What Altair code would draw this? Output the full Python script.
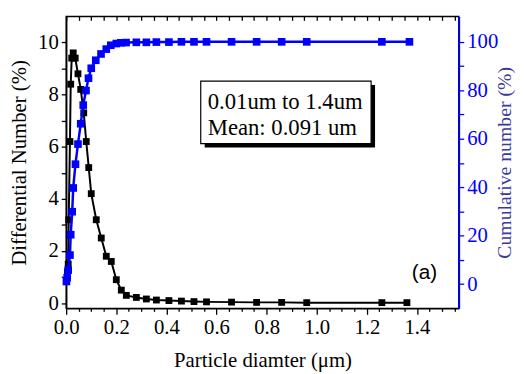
import altair as alt
import pandas as pd

# ---- data ----
diff_x = [0.005, 0.008, 0.010, 0.015, 0.018, 0.022, 0.028, 0.036, 0.047, 0.058,
          0.070, 0.080, 0.090, 0.100, 0.120, 0.140, 0.160, 0.180, 0.200, 0.220,
          0.240, 0.280, 0.320, 0.360, 0.410, 0.460, 0.510, 0.560, 0.660, 0.760,
          0.860, 0.960, 1.260, 1.360]
diff_y = [1.2, 1.5, 3.2, 6.2, 8.4, 9.4, 9.6, 9.4, 8.8, 8.2,
          7.3, 6.2, 5.2, 4.2, 3.2, 2.5, 1.8, 1.6, 0.9, 0.5,
          0.3, 0.22, 0.16, 0.12, 0.10, 0.08, 0.06, 0.05, 0.04, 0.03,
          0.03, 0.02, 0.02, 0.02]

cum_x = [0.001, 0.004, 0.008, 0.015, 0.018, 0.024, 0.028, 0.037, 0.047, 0.058,
         0.068, 0.079, 0.089, 0.100, 0.118, 0.139, 0.160, 0.178, 0.200, 0.218,
         0.239, 0.280, 0.320, 0.360, 0.410, 0.460, 0.510, 0.560, 0.660, 0.760,
         0.860, 0.960, 1.260, 1.370]
cum_y = [1.1, 2.7, 5.8, 12.0, 20.4, 29.9, 39.7, 49.5, 57.8, 66.2,
         73.9, 79.9, 85.0, 89.1, 92.4, 95.0, 97.0, 98.6, 99.3, 99.6,
         99.7, 99.8, 99.8, 99.9, 99.9, 100.0, 100.0, 100.0, 100.0, 100.0,
         100.0, 100.0, 100.0, 100.0]

x_ticks = [0.0, 0.05, 0.1, 0.15, 0.2, 0.25, 0.3, 0.35, 0.4, 0.45, 0.5, 0.55,
           0.6, 0.65, 0.7, 0.75, 0.8, 0.85, 0.9, 0.95, 1.0, 1.05, 1.1, 1.15,
           1.2, 1.25, 1.3, 1.35, 1.4, 1.45, 1.5, 1.55]
left_ticks = [0, 1, 2, 3, 4, 5, 6, 7, 8, 9, 10]
right_ticks = [0, 10, 20, 30, 40, 50, 60, 70, 80, 90, 100]

box_lines = ["0.01um to 1.4um", "Mean: 0.091 um"]
panel_label = "(a)"

diff_df = pd.DataFrame({"x": diff_x, "y": diff_y})
cum_df = pd.DataFrame({"x": cum_x, "y": cum_y})

SERIF = "Liberation Serif"
FS = 21
BLUE = "#0000ff"

xs = alt.Scale(domain=[0, 1.567], nice=False, zero=False)
yl = alt.Scale(domain=[-0.2, 11], nice=False, zero=False)
yr = alt.Scale(domain=[-10, 110.5], nice=False, zero=False)

major_test = "abs(datum.value*5 - round(datum.value*5)) < 0.001"

bottom_axis = alt.Axis(
    orient="bottom", values=x_ticks, grid=False,
    labelExpr=f"{major_test} ? format(datum.value, '.1f') : ''",
    labelFlush=False, labelOverlap=False,
    tickSize={"condition": {"test": major_test, "value": 6}, "value": 3},
    tickColor="black", tickWidth=1.3, domainColor="black", domainWidth=1.5,
    labelFont=SERIF, labelFontSize=FS, labelColor="black", labelPadding=2,
    title="Particle diamter (\u03bcm)", titleFont=SERIF, titleFontSize=FS,
    titleFontWeight="normal", titleColor="black", titlePadding=13,
)
top_axis = alt.Axis(
    orient="top", values=x_ticks, grid=False, labels=False, domain=False,
    tickSize=4, offset=-4, tickColor="black", tickWidth=1.3, title=None,
)
left_axis = alt.Axis(
    orient="left", values=left_ticks, grid=False,
    labelExpr="datum.value % 2 == 0 ? datum.label : ''",
    tickSize=5, tickColor="black", tickWidth=1.3,
    domainColor="black", domainWidth=1.5,
    labelFont=SERIF, labelFontSize=FS, labelColor="black", labelPadding=3,
    title="Differential Number (%)", titleFont=SERIF, titleFontSize=FS,
    titleFontWeight="normal", titleColor="black", titlePadding=8,
)
right_axis = alt.Axis(
    orient="right", values=right_ticks, grid=False,
    labelExpr="datum.value % 20 == 0 ? datum.label : ''",
    tickSize=5, tickColor=BLUE, tickWidth=1.3,
    domainColor=BLUE, domainWidth=1.8,
    labelFont=SERIF, labelFontSize=FS, labelColor=BLUE, labelPadding=3,
    title="Cumulative number (%)", titleFont=SERIF, titleFontSize=20,
    titleFontWeight="normal", titleColor="#3a3a9c",
    titleAngle=270, titleBaseline="middle", titleAlign="center",
    titleX=46, titleY=148,
)

black = alt.Chart(diff_df).mark_line(
    color="black", strokeWidth=2,
    point=alt.OverlayMarkDef(shape="square", size=48, filled=True, color="black", opacity=1),
).encode(
    x=alt.X("x:Q", scale=xs, axis=bottom_axis),
    y=alt.Y("y:Q", scale=yl, axis=left_axis),
)

blue = alt.Chart(cum_df).mark_line(
    color=BLUE, strokeWidth=2.5,
    point=alt.OverlayMarkDef(shape="square", size=60, filled=True, color=BLUE, opacity=1),
).encode(
    x=alt.X("x:Q", scale=xs, axis=top_axis),
    y=alt.Y("y:Q", scale=yr, axis=right_axis),
)

box_df = pd.DataFrame({"x": [0.537], "x2": [1.217], "y": [8.52], "y2": [6.12]})
shadow = alt.Chart(box_df).mark_rect(
    color="black", xOffset=4, x2Offset=4, yOffset=4, y2Offset=4,
).encode(
    x=alt.X("x:Q", scale=xs, axis=None), x2="x2:Q",
    y=alt.Y("y:Q", scale=yl, axis=None), y2="y2:Q",
)
box = alt.Chart(box_df).mark_rect(
    fill="white", stroke="black", strokeWidth=1.2,
).encode(
    x=alt.X("x:Q", scale=xs, axis=None), x2="x2:Q",
    y=alt.Y("y:Q", scale=yl, axis=None), y2="y2:Q",
)
txt_df = pd.DataFrame({"x": [0.565, 0.565], "y": [7.43, 6.45], "t": box_lines})
box_text = alt.Chart(txt_df).mark_text(
    font=SERIF, fontSize=23, align="left", baseline="alphabetic", color="black",
).encode(
    x=alt.X("x:Q", scale=xs, axis=None),
    y=alt.Y("y:Q", scale=yl, axis=None),
    text="t:N",
)
lab_df = pd.DataFrame({"x": [1.43], "y": [1.17], "t": [panel_label]})
lab_text = alt.Chart(lab_df).mark_text(
    font="Liberation Sans", fontSize=21, align="center", baseline="middle", color="black",
).encode(
    x=alt.X("x:Q", scale=xs, axis=None),
    y=alt.Y("y:Q", scale=yl, axis=None),
    text="t:N",
)

chart = alt.layer(black, blue, shadow, box, box_text, lab_text).resolve_scale(
    y="independent"
).resolve_axis(x="independent", y="independent").properties(
    width=398, height=296,
    autosize=alt.AutoSizeParams(type="none"),
    padding={"left": 59, "top": 6, "right": 58, "bottom": 64},
    background="white",
).configure_view(stroke="black", strokeWidth=1.5)

chart.save("out.html", embed_options={"renderer": "svg", "actions": False})
